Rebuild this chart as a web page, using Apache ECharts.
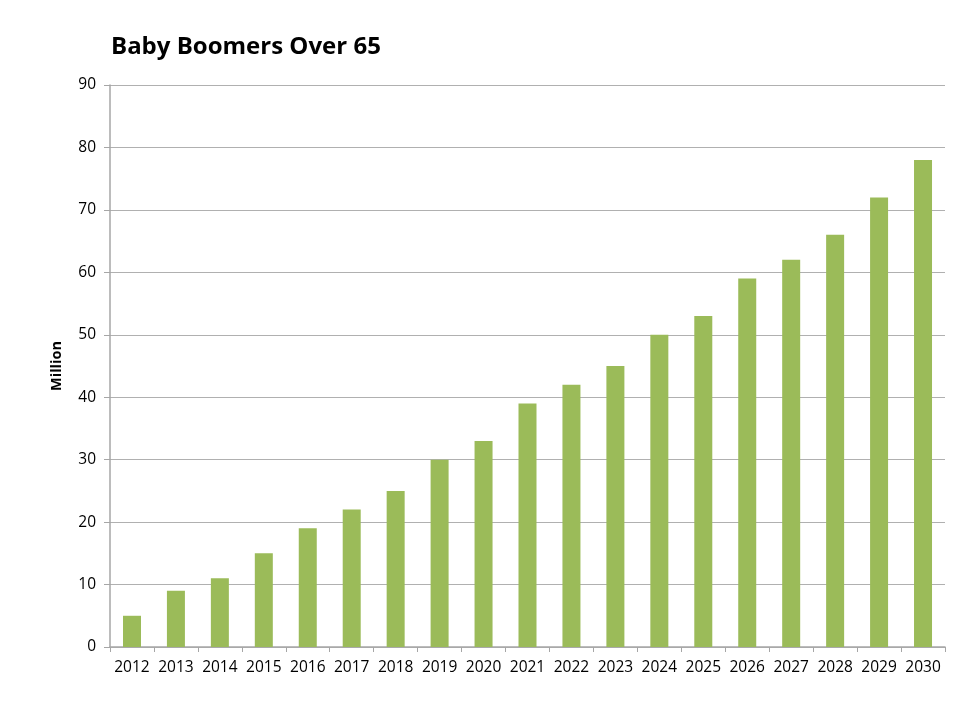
<!DOCTYPE html>
<html><head><meta charset="utf-8">
<script src="https://cdn.jsdelivr.net/npm/echarts@6/dist/echarts.min.js"></script>
<style>html,body{margin:0;padding:0;background:#fff}#c{width:973px;height:706px}</style>
</head><body><div id="c"></div>
<script>
const categories = ['2012','2013','2014','2015','2016','2017','2018','2019','2020','2021','2022','2023','2024','2025','2026','2027','2028','2029','2030'];
const values = [5,9,11,15,19,22,25,30,33,39,42,45,50,53,59,62,66,72,78];
const chartTitle = 'Baby Boomers Over 65';
const yAxisName = 'Million';

const chart = echarts.init(document.getElementById('c'));
chart.setOption({
  animation: false,
  textStyle: {fontFamily: 'Open Sans'},
  title: {text: chartTitle, left: 106, top: 30,
    textStyle: {fontFamily: 'Open Sans', fontSize: 24, fontWeight: 'bold', color: '#000'}},
  grid: {left: 110, right: 28, top: 85, bottom: 59},
  xAxis: {type: 'category', data: categories,
    axisLine: {lineStyle: {color: '#a6a6a6', width: 1.5}},
    axisTick: {show: true, length: 5, lineStyle: {color: '#a6a6a6'}},
    axisLabel: {color: '#000', fontSize: 15.5, margin: 13, interval: 0}},
  yAxis: {type: 'value', min: 0, max: 90, interval: 10,
    name: yAxisName, nameLocation: 'middle', nameGap: 46, nameRotate: 90,
    nameTextStyle: {fontFamily: 'Open Sans', fontSize: 14.5, fontWeight: 'bold', color: '#000'},
    axisLine: {show: true, lineStyle: {color: '#a6a6a6', width: 1.5}},
    axisTick: {show: true, length: 6, lineStyle: {color: '#a6a6a6'}},
    axisLabel: {color: '#000', fontSize: 15.5, margin: 14},
    splitLine: {lineStyle: {color: '#b0b0b0', width: 1.2}}},
  series: [{type: 'bar', data: values, barWidth: 18,
    itemStyle: {color: '#9bbb59'}}]
});
</script></body></html>
